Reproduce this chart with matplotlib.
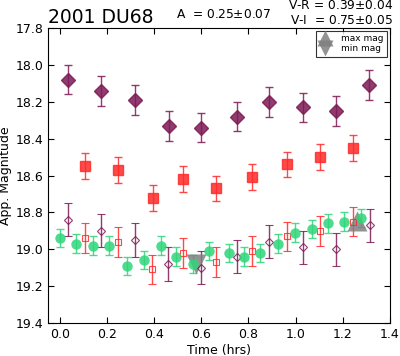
import numpy as np
import matplotlib
matplotlib.use('Agg')
import matplotlib.pyplot as plt

# R-band (filled diamonds, top)
t_r = [0.035, 0.173, 0.319, 0.461, 0.597, 0.750, 0.886, 1.030, 1.170, 1.312]
m_r = [18.08, 18.14, 18.19, 18.33, 18.34, 18.28, 18.20, 18.23, 18.25, 18.11]
e_r = [0.08] * 10

# I-band (filled squares)
t_i = [0.105, 0.248, 0.396, 0.523, 0.663, 0.814, 0.963, 1.105, 1.244]
m_i = [18.55, 18.57, 18.72, 18.62, 18.67, 18.61, 18.54, 18.50, 18.45]
e_i = [0.07] * 9

# V-band (green circles)
t_v = [0.000, 0.068, 0.140, 0.210, 0.285, 0.359, 0.427, 0.492, 0.563, 0.631,
       0.719, 0.783, 0.850, 0.925, 0.997, 1.069, 1.138, 1.204, 1.278]
m_v = [18.94, 18.97, 18.98, 18.98, 19.09, 19.06, 18.98, 19.04, 19.08, 19.01,
       19.02, 19.04, 19.02, 18.97, 18.91, 18.89, 18.86, 18.85, 18.83]
e_v = [0.05] * 19

# I shifted (open squares)
t_is = [0.105, 0.248, 0.393, 0.523, 0.664, 0.814, 0.963, 1.105, 1.244]
m_is = [18.94, 18.96, 19.11, 19.02, 19.07, 19.01, 18.93, 18.90, 18.85]
e_is = [0.08] * 9

# R shifted (open diamonds)
t_rs = [0.035, 0.174, 0.319, 0.458, 0.597, 0.750, 0.888, 1.033, 1.170, 1.315]
m_rs = [18.84, 18.90, 18.95, 19.08, 19.10, 19.04, 18.96, 18.99, 19.00, 18.87]
e_rs = [0.09] * 10

t_max, m_max = 1.258, 18.845
t_min, m_min = 0.577, 19.08

purple = '#7d1a55'
red = '#ff2a2a'
green = '#2ed67a'

fig = plt.figure(figsize=(4.0, 3.56), dpi=100)
ax = fig.add_axes([0.12, 0.093, 0.855, 0.828])

ax.errorbar(t_r, m_r, yerr=e_r, fmt='D', color=purple, ms=7, capsize=3,
            elinewidth=1.0, markeredgewidth=1.0, alpha=0.85)
ax.errorbar(t_i, m_i, yerr=e_i, fmt='s', color=red, ms=6.5, capsize=3,
            elinewidth=1.0, alpha=0.85)
ax.errorbar(t_is, m_is, yerr=e_is, fmt='s', color=red, mfc='none', ms=4,
            capsize=3, elinewidth=1.0, markeredgewidth=0.8, alpha=0.85)
ax.errorbar(t_rs, m_rs, yerr=e_rs, fmt='D', color=purple, mfc='none', ms=4,
            capsize=3, elinewidth=1.0, markeredgewidth=0.8, alpha=0.85)
ax.errorbar(t_v, m_v, yerr=e_v, fmt='o', color=green, ms=7.5, capsize=3,
            elinewidth=1.0, alpha=0.85, mec='none')

h1, = ax.plot([t_max], [m_max], '^', color='gray', ms=14, alpha=0.85, mec='none', label='max mag')
h2, = ax.plot([t_min], [m_min], 'v', color='gray', ms=14, alpha=0.85, mec='none', label='min mag')

leg = ax.legend(handles=[h1, h2], loc='upper right', fontsize=6.5, numpoints=1,
                markerscale=0.85, handlelength=1.2, handletextpad=1.2,
                labelspacing=0.1, borderpad=0.4, fancybox=False,
                borderaxespad=0.3)
leg.get_frame().set_edgecolor('black')
leg.get_frame().set_linewidth(0.8)

ax.set_xlim(-0.05, 1.4)
ax.set_ylim(19.4, 17.8)
ax.set_xticks(np.arange(0, 1.41, 0.2))
ax.set_yticks(np.arange(17.8, 19.41, 0.2))
ax.tick_params(direction='in', top=True, right=True, labelsize=9, length=4)
ax.set_xlabel('Time (hrs)', fontsize=9, labelpad=2)
ax.set_ylabel('App. Magnitude', fontsize=9, labelpad=2)

fig.text(0.12, 0.935, '2001 DU68', fontsize=13.5, va='baseline')
fig.text(0.44, 0.949, r'A  = 0.25$\pm$0.07', fontsize=8.8, va='baseline')
fig.text(0.983, 0.975, r'V-R = 0.39$\pm$0.04', fontsize=8.8, ha='right', va='baseline')
fig.text(0.983, 0.933, r'V-I  = 0.75$\pm$0.05', fontsize=8.8, ha='right', va='baseline')

fig.savefig('out.png', dpi=100)
